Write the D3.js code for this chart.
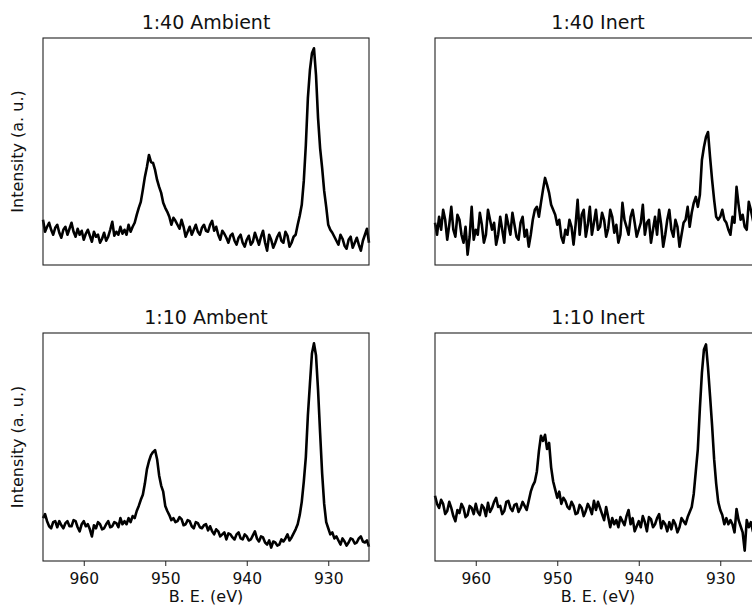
<!DOCTYPE html>
<html>
<head>
<meta charset="utf-8">
<script src="https://cdn.jsdelivr.net/npm/d3@7"></script>
<style>
  body { margin: 0; background: #fff; }
  svg { display: block; }
</style>
</head>
<body>
<div id="chart"></div>
<script>
// binding energy grid (eV), every 0.25 eV
const energy = [
    965, 964.75, 964.5, 964.25, 964, 963.75, 963.5, 963.25, 963, 962.75,
    962.5, 962.25, 962, 961.75, 961.5, 961.25, 961, 960.75, 960.5, 960.25,
    960, 959.75, 959.5, 959.25, 959, 958.75, 958.5, 958.25, 958, 957.75,
    957.5, 957.25, 957, 956.75, 956.5, 956.25, 956, 955.75, 955.5, 955.25,
    955, 954.75, 954.5, 954.25, 954, 953.75, 953.5, 953.25, 953, 952.75,
    952.5, 952.25, 952, 951.75, 951.5, 951.25, 951, 950.75, 950.5, 950.25,
    950, 949.75, 949.5, 949.25, 949, 948.75, 948.5, 948.25, 948, 947.75,
    947.5, 947.25, 947, 946.75, 946.5, 946.25, 946, 945.75, 945.5, 945.25,
    945, 944.75, 944.5, 944.25, 944, 943.75, 943.5, 943.25, 943, 942.75,
    942.5, 942.25, 942, 941.75, 941.5, 941.25, 941, 940.75, 940.5, 940.25,
    940, 939.75, 939.5, 939.25, 939, 938.75, 938.5, 938.25, 938, 937.75,
    937.5, 937.25, 937, 936.75, 936.5, 936.25, 936, 935.75, 935.5, 935.25,
    935, 934.75, 934.5, 934.25, 934, 933.75, 933.5, 933.25, 933, 932.75,
    932.5, 932.25, 932, 931.75, 931.5, 931.25, 931, 930.75, 930.5, 930.25,
    930, 929.75, 929.5, 929.25, 929, 928.75, 928.5, 928.25, 928, 927.75,
    927.5, 927.25, 927, 926.75, 926.5, 926.25, 926, 925.75, 925.5, 925.25,
    925
];

// intensities (a. u.)
const ambient40 = [
    45, 33, 38, 42, 35, 30, 37, 40, 32, 27,
    35, 38, 30, 36, 42, 33, 28, 36, 30, 34,
    25, 31, 35, 29, 23, 33, 28, 30, 22, 26,
    32, 24, 28, 35, 43, 29, 33, 30, 38, 31,
    35, 30, 40, 33, 38, 42, 50, 57, 63, 75,
    88, 98, 110, 103, 102, 95, 85, 78, 72, 62,
    57, 53, 48, 40, 47, 44, 40, 36, 45, 38,
    28, 33, 38, 30, 35, 40, 33, 30, 37, 40,
    34, 33, 40, 44, 34, 38, 30, 25, 34, 31,
    27, 22, 29, 31, 24, 20, 27, 30, 22, 18,
    25, 29, 20, 23, 32, 26, 20, 28, 34, 22,
    14, 30, 25, 17, 22, 28, 32, 24, 22, 33,
    29, 18, 22, 28, 30, 40, 49, 60, 84, 120,
    167, 195, 212, 217, 190, 147, 117, 97, 74, 58,
    40, 35, 32, 28, 24, 20, 30, 26, 19, 16,
    25, 28, 17, 22, 27, 20, 14, 24, 30, 36,
    22
];

const inert40 = [
    42, 30, 48, 35, 55, 45, 25, 40, 58, 35,
    28, 50, 45, 30, 22, 38, 10, 28, 58, 25,
    35, 30, 52, 40, 22, 30, 55, 45, 35, 42,
    20, 30, 48, 35, 22, 50, 40, 30, 52, 40,
    28, 25, 42, 48, 28, 35, 18, 30, 45, 55,
    58, 48, 62, 75, 87, 80, 72, 60, 55, 50,
    40, 45, 28, 22, 35, 30, 45, 38, 20, 40,
    65, 30, 50, 55, 28, 40, 58, 30, 42, 55,
    35, 38, 52, 45, 28, 36, 55, 48, 32, 40,
    22, 30, 62, 45, 38, 30, 48, 55, 42, 28,
    35, 42, 60, 30, 42, 45, 22, 35, 48, 30,
    55, 40, 18, 30, 45, 55, 35, 28, 45, 38,
    18, 30, 42, 45, 58, 38, 52, 62, 68, 58,
    70, 105, 118, 128, 133, 108, 85, 65, 48, 45,
    48, 55, 45, 42, 35, 30, 48, 42, 78, 60,
    45, 50, 38, 35, 63, 55, 45, 35, 40, 45,
    50
];

const ambient10 = [
    44, 48, 41, 36, 34, 40, 41, 35, 41, 37,
    34, 39, 41, 36, 36, 42, 41, 35, 31, 38,
    41, 36, 38, 33, 26, 37, 34, 40, 38, 33,
    34, 38, 41, 35, 36, 40, 39, 35, 44, 38,
    41, 38, 44, 40, 46, 44, 51, 56, 62, 67,
    78, 92, 100, 106, 109, 111, 102, 86, 76, 70,
    56, 51, 47, 42, 44, 40, 41, 45, 43, 37,
    38, 42, 41, 36, 34, 40, 39, 35, 34, 37,
    38, 32, 36, 31, 28, 33, 31, 26, 28, 30,
    23, 29, 28, 25, 23, 28, 30, 24, 23, 28,
    26, 22, 23, 27, 31, 24, 21, 26, 25, 20,
    18, 22, 15, 21, 20, 17, 18, 23, 21, 24,
    28, 22, 25, 29, 33, 38, 47, 60, 80, 104,
    145, 176, 206, 216, 204, 170, 128, 88, 58, 40,
    34, 28, 30, 24, 26, 22, 18, 24, 21, 17,
    20, 24, 23, 19, 20, 24, 26, 21, 20, 22,
    16
];

const inert10 = [
    66, 58, 54, 62, 58, 48, 51, 60, 54, 46,
    41, 52, 49, 58, 54, 45, 47, 56, 54, 48,
    58, 50, 47, 57, 54, 46, 59, 50, 54, 60,
    64, 55, 56, 48, 51, 60, 61, 54, 51, 57,
    58, 50, 54, 60, 56, 52, 61, 70, 76, 80,
    90, 110, 125, 120, 126, 112, 118, 94, 80, 72,
    64, 70, 58, 64, 61, 55, 53, 60, 56, 48,
    49, 57, 54, 46, 51, 58, 54, 48, 61, 52,
    60, 54, 48, 42, 55, 45, 35, 44, 38, 42,
    35, 45, 41, 37, 46, 52, 38, 44, 31, 36,
    41, 35, 46, 40, 31, 45, 43, 35, 38, 44,
    48, 34, 41, 38, 31, 40, 33, 42, 38, 30,
    35, 44, 41, 38, 45, 50, 55, 68, 90, 112,
    152, 187, 210, 215, 192, 164, 135, 102, 78, 60,
    52, 47, 38, 44, 38, 42, 38, 30, 53, 42,
    36, 30, 12, 42, 35, 40, 31, 50, 41, 30,
    35
];

const titles = ['1:40 Ambient', '1:40 Inert', '1:10 Ambent', '1:10 Inert'];
const xTicks = [960, 950, 940, 930];
const xDomain = [965, 925];

const panels = [
    { title: titles[0], values: ambient40, row: 0, col: 0 },
    { title: titles[1], values: inert40, row: 0, col: 1 },
    { title: titles[2], values: ambient10, row: 1, col: 0 },
    { title: titles[3], values: inert10, row: 1, col: 1 }
];

const width = 752,
    height = 608,
    fontFamily = '"DejaVu Sans", sans-serif',
    lineColor = '#000',
    frameColor = '#222';

// panel boxes (matplotlib-like 2x2 grid, right column runs off the page)
const colLeft = [43, 435],
    rowTop = [38, 333],
    panelWidth = 326,
    panelHeight = [227, 228];

const svg = d3.select('#chart')
    .append('svg')
    .attr('width', width)
    .attr('height', height)
    .style('background-color', '#fff');

// each row shares its intensity axis, padded 5% like autoscale
function rowDomain(row) {
    const all = panels.filter(p => p.row === row).flatMap(p => p.values);
    const [lo, hi] = d3.extent(all);
    const pad = (hi - lo) * 0.05;
    return [lo - pad, hi + pad];
}

panels.forEach(p => {
    const x0 = colLeft[p.col],
        y0 = rowTop[p.row],
        h = panelHeight[p.row];

    const x = d3.scaleLinear()
        .domain(xDomain)
        .range([0, panelWidth]);

    const y = d3.scaleLinear()
        .domain(rowDomain(p.row))
        .range([h, 0]);

    const g = svg.append('g')
        .attr('transform', 'translate(' + x0 + ',' + y0 + ')');

    const line = d3.line()
        .x((d, i) => x(energy[i]))
        .y(d => y(d));

    g.append('path')
        .datum(p.values)
        .attr('fill', 'none')
        .attr('stroke', lineColor)
        .attr('stroke-width', 2.6)
        .attr('stroke-linejoin', 'round')
        .attr('d', line);

    g.append('rect')
        .attr('width', panelWidth)
        .attr('height', h)
        .attr('fill', 'none')
        .attr('stroke', frameColor)
        .attr('stroke-width', 1.1);

    g.append('text')
        .attr('x', panelWidth / 2)
        .attr('y', -9)
        .attr('text-anchor', 'middle')
        .style('font-family', fontFamily)
        .style('font-size', '19px')
        .attr('fill', '#111')
        .text(p.title);

    if (p.row === 1) {
        const xAxis = g.append('g')
            .attr('transform', 'translate(0,' + h + ')')
            .call(d3.axisBottom(x).tickValues(xTicks).tickSize(5).tickPadding(7).tickFormat(d3.format('d')));
        xAxis.select('.domain').remove();
        xAxis.selectAll('text')
            .style('font-family', fontFamily)
            .style('font-size', '15.5px')
            .attr('fill', '#111');
        xAxis.selectAll('line').attr('stroke', frameColor);

        g.append('text')
            .attr('x', panelWidth / 2)
            .attr('y', h + 41)
            .attr('text-anchor', 'middle')
            .style('font-family', fontFamily)
            .style('font-size', '16px')
            .attr('fill', '#111')
            .text('B. E. (eV)');
    }

    if (p.col === 0) {
        g.append('text')
            .attr('transform', 'translate(' + (-20) + ',' + (h / 2) + ') rotate(-90)')
            .attr('text-anchor', 'middle')
            .style('font-family', fontFamily)
            .style('font-size', '16px')
            .attr('fill', '#111')
            .text('Intensity (a. u.)');
    }
});
</script>
</body>
</html>
